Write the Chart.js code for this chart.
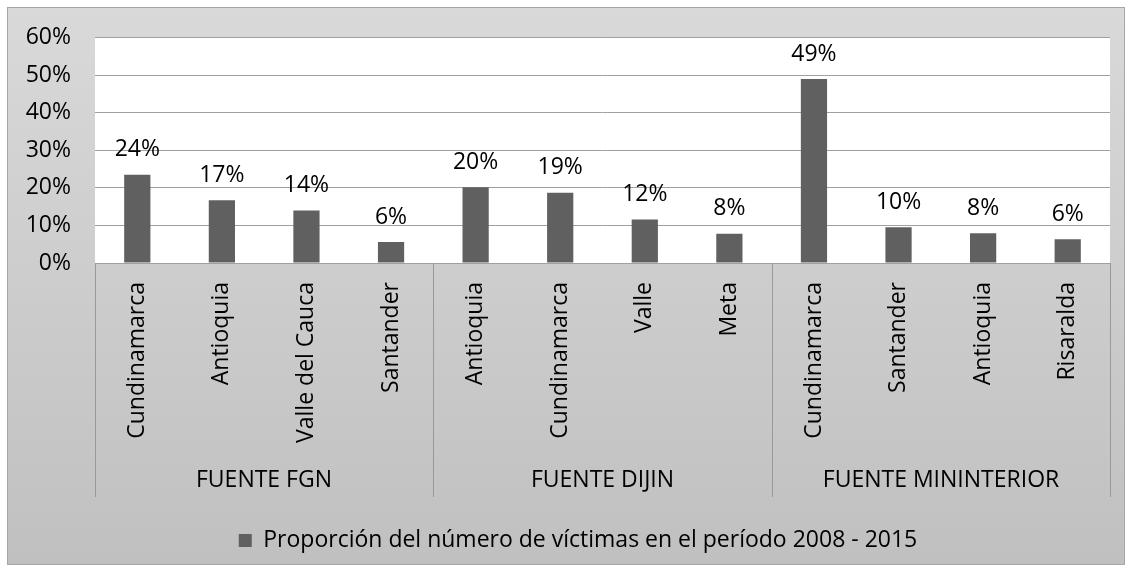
<!DOCTYPE html>
<html>
<head>
<meta charset="utf-8">
<script src="https://cdn.jsdelivr.net/npm/chart.js@4/dist/chart.umd.min.js"></script>
<style>
html,body{margin:0;padding:0;background:#fff;}
#wrap{width:1132px;height:572px;position:relative;}
canvas{display:block;}
</style>
</head>
<body>
<div id="wrap"><canvas id="c" width="1132" height="572"></canvas></div>
<script>
const categories = ["Cundinamarca","Antioquia","Valle del Cauca","Santander","Antioquia","Cundinamarca","Valle","Meta","Cundinamarca","Santander","Antioquia","Risaralda"];
const groups = ["FUENTE FGN","FUENTE DIJIN","FUENTE MININTERIOR"];
const groupSizes = [4,4,4];
const values = [23.5,16.7,14.0,5.6,20.2,18.7,11.6,7.8,49.0,9.5,7.9,6.3];
const seriesName = "Proporción del número de víctimas en el período 2008 - 2015";
const yTicks = [0,10,20,30,40,50,60];

const FONT = "'Open Sans', Lato, sans-serif";
const FS = 23;

const bgPlugin = {
  id:'bg',
  afterLayout(chart){
    if (chart.legend) { chart.legend.left += 19; chart.legend.right += 19; }
  },
  beforeDraw(chart){
    const ctx = chart.ctx, W = chart.width, H = chart.height;
    ctx.save();
    ctx.fillStyle = '#ffffff';
    ctx.fillRect(0,0,W,H);
    const g = ctx.createLinearGradient(0,7,0,H-7);
    g.addColorStop(0,'#d9d9d9');
    g.addColorStop(1,'#c0c0c0');
    ctx.fillStyle = g;
    ctx.fillRect(7,7,W-14,H-14);
    ctx.strokeStyle = '#a6a6a6';
    ctx.lineWidth = 1;
    ctx.strokeRect(7.5,7.5,W-15,H-15);
    const a = chart.chartArea;
    ctx.fillStyle = '#ffffff';
    ctx.fillRect(a.left,a.top,a.right-a.left,a.bottom-a.top);
    ctx.restore();
  }
};

const groupPlugin = {
  id:'groups',
  afterDraw(chart){
    const ctx = chart.ctx, x = chart.scales.x, a = chart.chartArea;
    ctx.save();
    ctx.strokeStyle = '#999999';
    ctx.lineWidth = 1;
    let idx = 0;
    const half = (x.getPixelForValue(1)-x.getPixelForValue(0))/2;
    const bounds = [Math.round(x.getPixelForValue(0)-half)];
    groupSizes.forEach(s=>{ idx += s; bounds.push(Math.round(x.getPixelForValue(idx-1)+half)); });
    bounds.forEach(b=>{
      ctx.beginPath(); ctx.moveTo(b+0.5,a.bottom); ctx.lineTo(b+0.5,a.bottom+234); ctx.stroke();
    });
    ctx.fillStyle = '#000';
    ctx.font = FS + "px " + FONT;
    ctx.textAlign = 'center';
    ctx.textBaseline = 'middle';
    groups.forEach((gname,i)=>{
      ctx.fillText(gname,(bounds[i]+bounds[i+1])/2,a.bottom+217);
    });
    // data labels
    const meta = chart.getDatasetMeta(0);
    meta.data.forEach((bar,i)=>{
      ctx.fillText(Math.round(values[i])+'%', bar.x, bar.y-25);
    });
    ctx.restore();
  }
};

new Chart(document.getElementById('c'),{
  type:'bar',
  data:{
    labels:categories,
    datasets:[{
      label:seriesName,
      data:values,
      backgroundColor:'#606060',
      borderColor:'#606060',
      borderWidth:0,
      barPercentage:0.62,
      categoryPercentage:0.5
    }]
  },
  options:{
    responsive:false,
    animation:false,
    events:[],
    layout:{padding:{left:8,right:22,top:37,bottom:10}},
    plugins:{
      legend:{
        position:'bottom',
        labels:{
          font:{family:FONT,size:FS},
          color:'#000',
          boxWidth:13,boxHeight:13,
          padding:10
        }
      },
      tooltip:{enabled:false}
    },
    scales:{
      y:{
        min:0,max:60,
        afterFit(s){ s.width = 87; },
        afterBuildTicks(s){ s.ticks = yTicks.map(v=>({value:v})); },
        ticks:{
          callback:v=>v+'%',
          font:{family:FONT,size:FS},
          color:'#000',
          padding:24
        },
        grid:{color:'#a0a0a0',drawTicks:false},
        border:{display:false}
      },
      x:{
        afterFit(s){ s.height = 256; },
        ticks:{
          minRotation:90,maxRotation:90,
          font:{family:FONT,size:FS},
          color:'#000',
          padding:19,
          autoSkip:false
        },
        grid:{display:false,drawTicks:false},
        border:{display:true,color:'#a0a0a0'}
      }
    }
  },
  plugins:[bgPlugin,groupPlugin]
});
</script>
</body>
</html>
